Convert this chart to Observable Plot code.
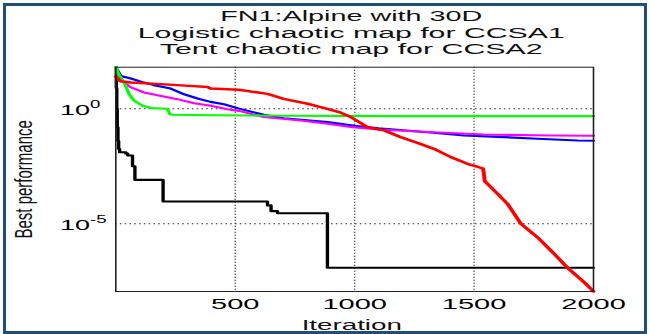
<!DOCTYPE html>
<html><head><meta charset="utf-8">
<script src="https://cdn.jsdelivr.net/npm/d3@7"></script>
<script src="https://cdn.jsdelivr.net/npm/@observablehq/plot@0.6"></script>
<style>
html,body{margin:0;padding:0;background:#fff;}
#wrap{position:relative;width:650px;height:334px;overflow:hidden;background:#fff;}
#border{position:absolute;left:3px;top:3px;width:644px;height:331px;box-sizing:border-box;border:3px solid #1f4e79;pointer-events:none;}
</style></head><body>
<div id="wrap"><div id="border"></div></div>
<script>
// ---- text & ticks ----
const titleLines = ["FN1:Alpine with 30D", "Logistic chaotic map for CCSA1", "Tent chaotic map for CCSA2"];
const xLabel = "Iteration";
const yLabel = "Best performance";
const xTicks = [500, 1000, 1500, 2000];
const xGrid = [500, 1000, 1500];
const yTicks = [1e0, 1e-5];
const xDomain = [0, 2000];
const yDomain = [1.14e-8, 64.4];

// ---- series (iteration, best performance) ----
const blackIter = [0, 2, 4, 6, 9, 12, 16, 42, 50, 70, 80, 198, 635, 650, 677, 886, 2000];
const blackVal  = [63.1, 7.94, 1.0, 0.158, 0.0398, 0.0178, 0.0129, 0.0112, 0.00933, 0.00316, 8.13e-4, 9.33e-5, 6.31e-5, 3.55e-5, 2.88e-5, 1.23e-7, 1.23e-7];

const blueIter = [0, 21, 63, 118, 160, 230, 286, 342, 397, 453, 516, 620, 703, 887, 1000, 1100, 1331, 1457, 1600, 1766, 1934, 2000];
const blueVal  = [63.1, 26.9, 20.9, 13.8, 10.7, 7.59, 4.27, 2.82, 2.0, 1.58, 1.02, 0.55, 0.389, 0.263, 0.182, 0.141, 0.0912, 0.0692, 0.0603, 0.0501, 0.0417, 0.0407];

const magentaIter = [0, 14, 63, 118, 175, 258, 328, 398, 468, 516, 620, 775, 887, 992, 1100, 1331, 1541, 1821, 2000];
const magentaVal  = [63.1, 19.5, 8.51, 5.13, 3.89, 2.63, 1.74, 1.35, 0.955, 0.813, 0.437, 0.309, 0.224, 0.158, 0.126, 0.0955, 0.0759, 0.0692, 0.0676];

const greenIter = [0, 15, 35, 56, 77, 112, 150, 216, 226, 240, 400, 700, 1200, 2000];
const greenVal  = [63.1, 28.2, 13.8, 4.27, 2.24, 1.35, 1.08, 1.0, 0.575, 0.55, 0.525, 0.5, 0.479, 0.479];

const redIter = [0, 20, 63, 258, 384, 397, 515, 635, 703, 803, 886, 942, 984, 1026, 1054, 1123, 1193, 1263, 1332, 1403, 1472, 1520, 1538, 1545, 1584, 1640, 1696, 1765, 1835, 1891, 1961, 2000];
const redVal  = [25.1, 15.8, 13.8, 10.7, 8.91, 7.59, 6.76, 4.47, 2.69, 1.66, 1.0, 0.676, 0.437, 0.24, 0.158, 0.115, 0.0589, 0.0331, 0.0182, 0.00794, 0.00407, 0.00288, 0.00251, 7.08e-4, 2.82e-4, 7.41e-5, 1.0e-5, 2.63e-6, 5.01e-7, 1.23e-7, 2.88e-8, 1.15e-8];

// ---- layout / style ----
const S = 1.6;                 // horizontal stretch of the whole picture
const W = 650, H = 334, W0 = W / S;
const mL = 115 / S, mR = (650 - 592.7) / S, mT = 66.7, mB = 43;
const titleBaselines = [20.5, 37.3, 53.3];
const titleWidths = [262, 427, 383];
const font = "'Liberation Sans', Arial, Helvetica, sans-serif";

const series = [
  {iter: blackIter, val: blackVal, color: "#000000", curve: "step-after", w: 2.1},
  {iter: blueIter, val: blueVal, color: "#0000ff", curve: "linear", w: 2.1},
  {iter: magentaIter, val: magentaVal, color: "#ff00ff", curve: "linear", w: 2.1},
  {iter: greenIter, val: greenVal, color: "#00ff00", curve: "linear", w: 2.1},
  {iter: redIter, val: redVal, color: "#ff0000", curve: "linear", w: 2.5}
];

const plot = Plot.plot({
  width: W0, height: H,
  marginLeft: mL, marginRight: mR, marginTop: mT, marginBottom: mB,
  style: {fontFamily: font, background: "white", color: "black"},
  x: {domain: xDomain},
  y: {type: "log", domain: yDomain},
  marks: [
    Plot.ruleX(xGrid, {stroke: "#333", strokeDasharray: "1,2", strokeWidth: 0.9}),
    Plot.ruleY(yTicks, {stroke: "#333", strokeDasharray: "1,2", strokeWidth: 0.9}),
    ...series.map(s => Plot.line(s.iter.map((x, i) => ({x, y: s.val[i]})),
      {x: "x", y: "y", stroke: s.color, strokeWidth: s.w, curve: s.curve})),
    Plot.frame({stroke: "#222", strokeWidth: 1}),
    Plot.axisX({ticks: xTicks, tickSize: 0, tickPadding: 6.7, fontSize: 14.5, label: null, tickFormat: d => String(d)}),
    Plot.axisY({ticks: yTicks, tickSize: 0, tickPadding: 34.8, textAnchor: "start", fontSize: 14.5, label: null, dy: 1.4,
      tickFormat: d => `10^${Math.round(Math.log10(d))}`}),
    ...titleLines.map((t, i) => Plot.text([t], {frameAnchor: "top", dy: titleBaselines[i] - mT, dx: (350.5 - 353.9) / S,
      lineAnchor: "bottom", fontSize: 15.5, fill: "#111"})),
    Plot.text([xLabel], {frameAnchor: "bottom", dy: 38.5, lineAnchor: "bottom", fontSize: 15, fill: "#111", dx: (351 - 353.9) / S}),
    Plot.text([yLabel], {frameAnchor: "left", textAnchor: "middle", rotate: -90, dx: 19.8 - mL, lineAnchor: "bottom", fontSize: 15, fill: "#111"})
  ]
});

plot.setAttribute("width", W);
plot.setAttribute("height", H);
plot.setAttribute("viewBox", `0 0 ${W0} ${H}`);
plot.setAttribute("preserveAspectRatio", "none");
plot.style.cssText = `display:block;width:${W}px;height:${H}px;max-width:none;background:white;font-family:${font};`;
const wrap = document.getElementById("wrap");
wrap.insertBefore(plot, document.getElementById("border"));

// superscript exponents on the y tick labels, and width fitting of text
plot.querySelectorAll("text").forEach(el => {
  const g = el.closest("g[aria-label]");
  const role = g ? g.getAttribute("aria-label") : "";
  const txt = el.textContent;
  let ratio = null;
  if (role === "y-axis tick label" && txt.includes("^")) {
    const [base, exp] = txt.split("^");
    el.textContent = base;
    const ts = document.createElementNS("http://www.w3.org/2000/svg", "tspan");
    ts.setAttribute("dy", "-7");
    ts.setAttribute("font-size", "10");
    ts.textContent = exp;
    el.appendChild(ts);
    ratio = 1.86 / S;
  } else if (role === "x-axis tick label") {
    ratio = 2.0 / S;
  } else if (txt === xLabel) {
    ratio = 1.85 / S;
  }
  const ti = titleLines.indexOf(txt);
  if (ti >= 0) {
    el.setAttribute("textLength", titleWidths[ti] / S);
    el.setAttribute("lengthAdjust", "spacingAndGlyphs");
  } else if (ratio) {
    const w = el.getComputedTextLength();
    el.setAttribute("textLength", w * ratio);
    el.setAttribute("lengthAdjust", "spacingAndGlyphs");
  }
});
</script>
</body></html>
